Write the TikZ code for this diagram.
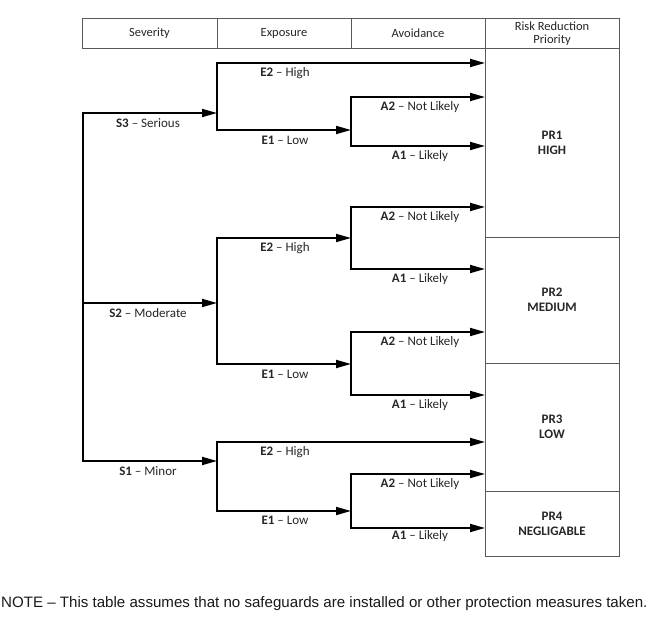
\documentclass[tikz,border=0pt]{standalone}
\usepackage{fontspec}
\setmainfont{Carlito}
\newfontfamily\notefont{Liberation Sans}
\usetikzlibrary{arrows.meta}
\begin{document}
\begin{tikzpicture}[x=1pt,y=-1pt,
  cell/.style={draw=black!65,line width=0.9pt,inner sep=0pt,align=center,text=black!85},
  hdr/.style={cell,minimum height=29.5pt,font=\fontsize{12.5}{13.5}\selectfont},
  prc/.style={cell,minimum width=134pt,font=\bfseries\fontsize{13}{15}\selectfont},
  tipA/.tip={Triangle[length=15pt,width=8pt]},
  arr/.style={line width=1.8pt,-tipA},
  arrtwo/.style={line width=1.8pt,tipA-tipA},
  lbl/.style={font=\fontsize{13}{14}\selectfont,text=black!85,inner sep=0pt},
  notetext/.style={font=\notefont\fontsize{15.1}{16}\selectfont,anchor=west,text=black!90,inner sep=0pt}]
\useasboundingbox (0,0) rectangle (665,617);

% header
\node[hdr,minimum width=135pt] (hsev) at (149.5,33.5) {Severity};
\node[hdr,minimum width=134pt] (hexp) at (284,33.5) {Exposure};
\node[hdr,minimum width=134pt] (havo) at (418,33.5) {Avoidance};
\node[hdr,minimum width=134pt] (hpri) at (552,33.5) {Risk Reduction\\Priority};

% priority cells
\node[prc,minimum height=189pt] (pr1) at (552,142.5) {PR1\\HIGH};
\node[prc,minimum height=126pt] (pr2) at (552,300) {PR2\\MEDIUM};
\node[prc,minimum height=128pt] (pr3) at (552,427) {PR3\\LOW};
\node[prc,minimum height=65pt] (pr4) at (552,523.5) {PR4\\NEGLIGABLE};

% coordinates
\coordinate (t3) at (83,113);
\coordinate (t2) at (83,303);
\coordinate (t1) at (83,461);
\coordinate (f3) at (217,113);
\coordinate (f3h) at (217,63);
\coordinate (f3l) at (217,130);
\coordinate (f2) at (217,303);
\coordinate (f2h) at (217,238);
\coordinate (f2l) at (217,364);
\coordinate (f1) at (217,461);
\coordinate (f1h) at (217,442);
\coordinate (f1l) at (217,511);
\coordinate (a3) at (351,130);
\coordinate (a3h) at (351,97);
\coordinate (a3l) at (351,146);
\coordinate (a2h) at (351,238);
\coordinate (a2hh) at (351,207);
\coordinate (a2hl) at (351,269);
\coordinate (a2l) at (351,364);
\coordinate (a2lh) at (351,332);
\coordinate (a2ll) at (351,395);
\coordinate (a1) at (351,511);
\coordinate (a1h) at (351,474);
\coordinate (a1l) at (351,528);
\coordinate (r63) at (485,63);
\coordinate (r97) at (485,97);
\coordinate (r146) at (485,146);
\coordinate (r207) at (485,207);
\coordinate (r269) at (485,269);
\coordinate (r332) at (485,332);
\coordinate (r395) at (485,395);
\coordinate (r442) at (485,442);
\coordinate (r474) at (485,474);
\coordinate (r528) at (485,528);

% connectors
\draw[arrtwo] (f3) -- (t3) -- (t1) -- (f1);
\draw[arr] (t2) -- (f2);
\draw[arrtwo] (r63) -- (f3h) -- (f3l) -- (a3);
\draw[arrtwo] (r97) -- (a3h) -- (a3l) -- (r146);
\draw[arrtwo] (a2h) -- (f2h) -- (f2l) -- (a2l);
\draw[arrtwo] (r207) -- (a2hh) -- (a2hl) -- (r269);
\draw[arrtwo] (r332) -- (a2lh) -- (a2ll) -- (r395);
\draw[arrtwo] (r442) -- (f1h) -- (f1l) -- (a1);
\draw[arrtwo] (r474) -- (a1h) -- (a1l) -- (r528);

% labels
\node[lbl] (ls3) at (148,123.5) {\textbf{S3} \textendash{} Serious};
\node[lbl] (ls2) at (148,313.5) {\textbf{S2} \textendash{} Moderate};
\node[lbl] (ls1) at (148,471.5) {\textbf{S1} \textendash{} Minor};
\node[lbl] (le32) at (285,73.5) {\textbf{E2} \textendash{} High};
\node[lbl] (le31) at (285,140.5) {\textbf{E1} \textendash{} Low};
\node[lbl] (le22) at (285,248.5) {\textbf{E2} \textendash{} High};
\node[lbl] (le21) at (285,374.5) {\textbf{E1} \textendash{} Low};
\node[lbl] (le12) at (285,452.5) {\textbf{E2} \textendash{} High};
\node[lbl] (le11) at (285,520) {\textbf{E1} \textendash{} Low};
\node[lbl] (la1) at (420,107.5) {\textbf{A2} \textendash{} Not Likely};
\node[lbl] (la2) at (420,156.5) {\textbf{A1} \textendash{} Likely};
\node[lbl] (la3) at (420,217.5) {\textbf{A2} \textendash{} Not Likely};
\node[lbl] (la4) at (420,279.5) {\textbf{A1} \textendash{} Likely};
\node[lbl] (la5) at (420,342.5) {\textbf{A2} \textendash{} Not Likely};
\node[lbl] (la6) at (420,405.5) {\textbf{A1} \textendash{} Likely};
\node[lbl] (la7) at (420,484.5) {\textbf{A2} \textendash{} Not Likely};
\node[lbl] (la8) at (420,536.5) {\textbf{A1} \textendash{} Likely};

% note
\node[notetext] (note) at (1,604) {NOTE \textendash{} This table assumes that no safeguards are installed or other protection measures taken.};
\end{tikzpicture}
\end{document}
